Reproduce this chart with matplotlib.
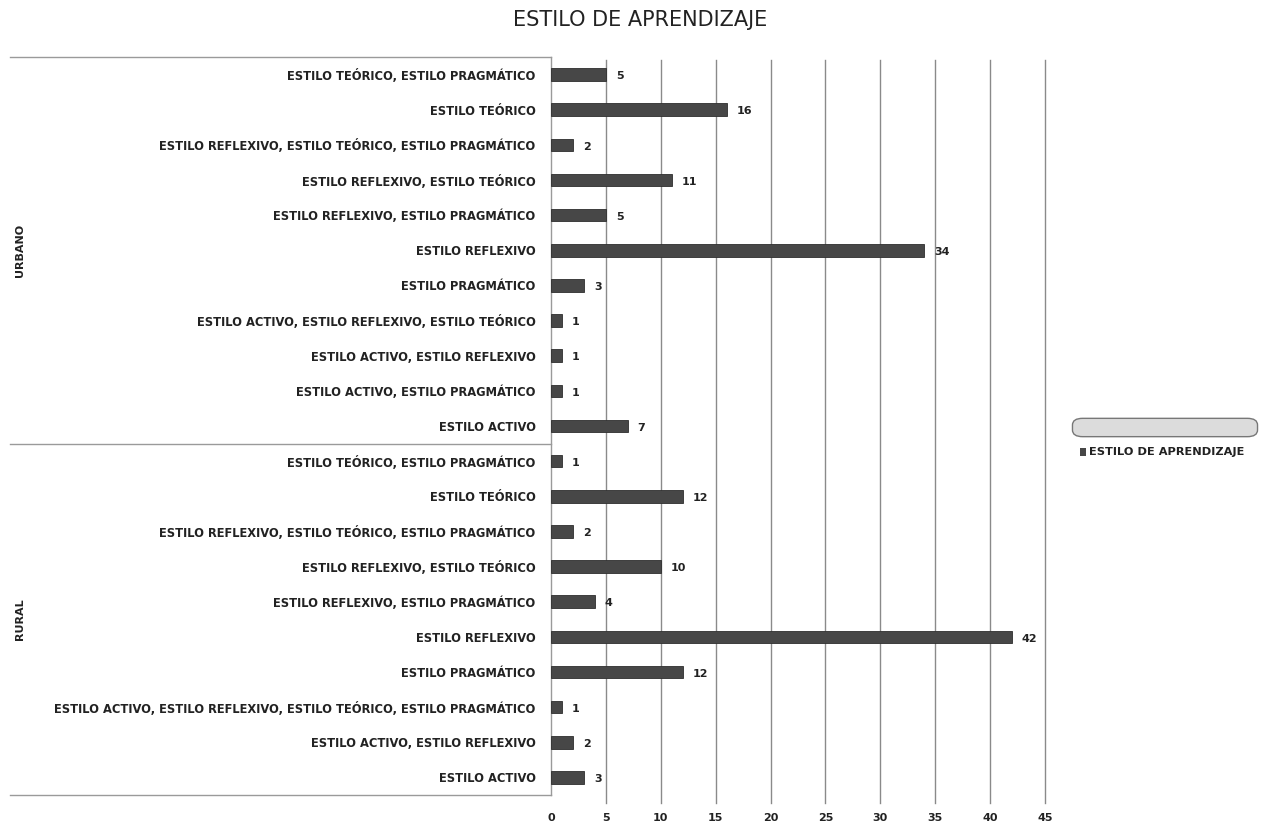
import matplotlib
matplotlib.use("Agg")
import matplotlib.pyplot as plt
from matplotlib.patches import FancyBboxPatch

title = "ESTILO DE APRENDIZAJE"
series_name = "ESTILO DE APRENDIZAJE"

urbano_labels = [
    "ESTILO TEÓRICO, ESTILO PRAGMÁTICO",
    "ESTILO TEÓRICO",
    "ESTILO REFLEXIVO, ESTILO TEÓRICO, ESTILO PRAGMÁTICO",
    "ESTILO REFLEXIVO, ESTILO TEÓRICO",
    "ESTILO REFLEXIVO, ESTILO PRAGMÁTICO",
    "ESTILO REFLEXIVO",
    "ESTILO PRAGMÁTICO",
    "ESTILO ACTIVO, ESTILO REFLEXIVO, ESTILO TEÓRICO",
    "ESTILO ACTIVO, ESTILO REFLEXIVO",
    "ESTILO ACTIVO, ESTILO PRAGMÁTICO",
    "ESTILO ACTIVO",
]
urbano_values = [5, 16, 2, 11, 5, 34, 3, 1, 1, 1, 7]

rural_labels = [
    "ESTILO TEÓRICO, ESTILO PRAGMÁTICO",
    "ESTILO TEÓRICO",
    "ESTILO REFLEXIVO, ESTILO TEÓRICO, ESTILO PRAGMÁTICO",
    "ESTILO REFLEXIVO, ESTILO TEÓRICO",
    "ESTILO REFLEXIVO, ESTILO PRAGMÁTICO",
    "ESTILO REFLEXIVO",
    "ESTILO PRAGMÁTICO",
    "ESTILO ACTIVO, ESTILO REFLEXIVO, ESTILO TEÓRICO, ESTILO PRAGMÁTICO",
    "ESTILO ACTIVO, ESTILO REFLEXIVO",
    "ESTILO ACTIVO",
]
rural_values = [1, 12, 2, 10, 4, 42, 12, 1, 2, 3]

groups = ["URBANO", "RURAL"]
xticks = [0, 5, 10, 15, 20, 25, 30, 35, 40, 45]

labels = urbano_labels + rural_labels
values = urbano_values + rural_values
ypos = list(range(len(labels)))

W, H = 1267, 833
fig = plt.figure(figsize=(W / 100, H / 100), dpi=100)
left, right, top, bottom = 551, 1045, 57, 795
ax = fig.add_axes([left / W, 1 - bottom / H, (right - left) / W, (bottom - top) / H])

bar_color = "#474747"
ax.barh(ypos, values, height=0.36, color=bar_color, edgecolor="#2e2e2e", linewidth=0.6, zorder=3)
ax.set_ylim(len(labels) - 0.5, -0.5)
ax.set_xlim(0, 45)

for y, v in zip(ypos, values):
    ax.text(v + 0.9, y + 0.05, str(v), va="center", ha="left", fontsize=8,
            fontweight="bold", color="#222222", zorder=4)

ax.set_xticks(xticks)
ax.set_xticklabels([str(t) for t in xticks], fontsize=8, fontweight="bold", color="#222222")
ax.tick_params(axis="x", length=0, pad=13)
ax.set_yticks(ypos)
ax.set_yticklabels(labels, fontsize=8.3, fontweight="bold", color="#222222")
ax.tick_params(axis="y", length=0, pad=11)

for t in xticks[1:]:
    ax.axvline(t, color="#8a8a8a", linewidth=1.0, zorder=1, ymin=-0.011, ymax=0.996, clip_on=False)

for s in ["top", "right", "bottom"]:
    ax.spines[s].set_visible(False)
ax.spines["left"].set_color("#9a9a9a")
ax.spines["left"].set_linewidth(1.0)

# group separator lines to the left of the axis
tr = ax.get_yaxis_transform()
x0 = (10 - left) / (right - left)
n_u = len(urbano_labels)
for yy in [-0.5, n_u - 0.5, len(labels) - 0.5]:
    ax.plot([x0, 0], [yy, yy], transform=tr, color="#9a9a9a", linewidth=1.0, clip_on=False)

# group labels
ax.text((20 - left) / (right - left), (n_u - 1) / 2, groups[0], transform=tr, rotation=90,
        ha="center", va="center", fontsize=8, fontweight="bold", color="#222222")
ax.text((20 - left) / (right - left), n_u + (len(rural_labels) - 1) / 2, groups[1], transform=tr,
        rotation=90, ha="center", va="center", fontsize=8, fontweight="bold", color="#222222")

fig.text(640 / W, 1 - 20 / H, title, ha="center", va="center", fontsize=15, color="#222222")

# legend area
pill = FancyBboxPatch((1075 / W, 1 - 435 / H), 180 / W, 15 / H,
                      boxstyle="round,pad=0.002,rounding_size=0.008",
                      transform=fig.transFigure, facecolor="#dcdcdc", edgecolor="#777777",
                      linewidth=1.0)
fig.add_artist(pill)
fig.patches.append(plt.Rectangle((1080 / W, 1 - 456 / H), 6 / W, 8 / H,
                                 transform=fig.transFigure, facecolor=bar_color, edgecolor="none"))
fig.text(1089 / W, 1 - 452 / H, series_name, ha="left", va="center", fontsize=8.2,
         fontweight="bold", color="#222222")

fig.savefig("out.png", dpi=100)
